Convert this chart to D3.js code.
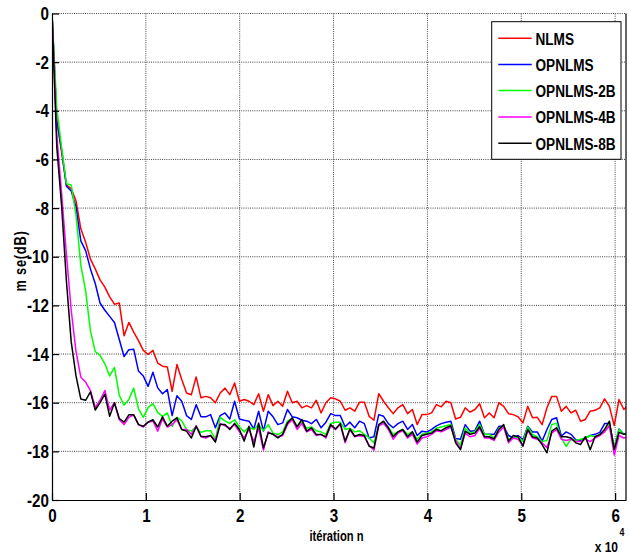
<!DOCTYPE html>
<html><head><meta charset="utf-8">
<script src="https://cdn.jsdelivr.net/npm/d3@7/dist/d3.min.js"></script>
<style>
html,body{margin:0;padding:0;background:#fff;}
svg{display:block;}
text{font-family:"Liberation Sans",Arial,sans-serif;font-weight:bold;}
</style></head>
<body>
<svg id="chart" width="629" height="555"></svg>
<script>
// ---- data ----
const seriesNames = ["NLMS","OPNLMS","OPNLMS-2B","OPNLMS-4B","OPNLMS-8B"];
const seriesColors = ["#ff0000","#0000ff","#00ff00","#ff00ff","#000000"];
const iterStep = 512; // iterations between successive samples
const xTickValues = [0,10000,20000,30000,40000,50000,60000];
const xTickLabels = ["0","1","2","3","4","5","6"];
const yTickValues = [0,-2,-4,-6,-8,-10,-12,-14,-16,-18,-20];
const yTickLabels = ["0","-2","-4","-6","-8","-10","-12","-14","-16","-18","-20"];

const nlms = [0,-4.4,-5.7,-7.05,-7.2,-7.7,-8.85,-9.4,-10.1,-10.5,
-10.95,-11.25,-11.65,-11.95,-11.9,-13.25,-12.7,-13.1,-13.45,-13.85,
-14.02,-13.85,-14.37,-14.5,-14.53,-15.53,-14.43,-15.05,-15.6,-15.67,
-14.94,-15.8,-15.74,-15.8,-16.0,-15.6,-15.4,-15.67,-15.19,-15.94,
-15.87,-15.94,-16.08,-15.63,-16.35,-15.67,-16.12,-15.94,-16.15,-15.53,
-16.0,-15.94,-16.21,-16.12,-16.21,-15.9,-16.42,-16.0,-15.8,-15.84,
-15.94,-16.31,-16.21,-16.35,-15.98,-15.98,-16.56,-16.72,-15.63,-15.94,
-16.21,-16.45,-16.21,-16.08,-16.45,-16.28,-16.9,-16.49,-16.49,-16.42,
-16.08,-16.17,-15.94,-16.0,-16.67,-16.6,-16.21,-16.39,-16.28,-16.04,
-16.62,-16.42,-16.62,-16.0,-16.15,-16.45,-16.49,-16.58,-16.83,-16.15,
-16.62,-16.6,-16.9,-16.21,-15.74,-15.74,-16.35,-16.15,-16.42,-16.31,
-16.76,-16.69,-16.35,-16.31,-16.21,-15.84,-16.15,-16.94,-15.87,-16.28,
-16.1];

const opnlms = [0,-4.4,-5.6,-7.1,-7.3,-7.95,-9.35,-9.75,-10.5,-11.1,
-11.9,-12.2,-12.45,-12.7,-13.4,-14.1,-13.82,-13.8,-14.7,-14.9,
-15.33,-14.75,-15.39,-15.63,-15.46,-16.53,-15.71,-15.94,-16.53,-16.69,
-16.08,-16.58,-16.58,-16.49,-17.03,-16.53,-16.42,-16.67,-15.94,-16.67,
-16.72,-16.76,-17.08,-16.35,-17.17,-16.35,-16.58,-16.9,-16.83,-16.28,
-16.58,-16.62,-16.72,-16.76,-16.86,-16.69,-17.03,-16.8,-16.45,-16.53,
-16.53,-16.99,-16.8,-17.03,-16.76,-16.86,-17.45,-17.4,-16.49,-16.56,
-16.86,-17.03,-16.86,-16.76,-17.1,-16.9,-17.35,-17.17,-17.2,-17.1,
-16.95,-16.86,-16.8,-16.76,-17.47,-17.5,-16.9,-17.17,-17.15,-16.76,
-17.31,-17.3,-17.3,-16.97,-16.97,-17.35,-17.45,-17.35,-17.52,-16.97,
-17.2,-17.2,-17.58,-17.1,-16.69,-16.62,-17.38,-17.2,-17.3,-17.52,
-17.55,-17.45,-17.35,-17.3,-17.22,-16.86,-16.85,-17.86,-17.08,-17.3,
-17.2];

const opnlms2b = [0,-3.9,-5.5,-7.0,-7.05,-8.3,-10.35,-11.4,-13.05,-13.9,
-14.05,-14.4,-14.9,-14.55,-15.7,-16.1,-15.87,-15.4,-16.25,-16.6,
-16.2,-16.04,-16.4,-16.56,-16.42,-16.97,-16.6,-16.75,-17.1,-17.17,
-17.0,-17.22,-17.15,-17.15,-17.5,-16.6,-16.75,-16.85,-16.7,-17.0,
-17.2,-17.0,-17.1,-16.9,-17.15,-16.9,-17.25,-17.31,-17.2,-16.76,
-16.65,-16.95,-16.8,-17.05,-17.0,-17.15,-17.2,-17.3,-16.85,-16.8,
-16.8,-17.1,-17.05,-17.2,-17.15,-17.3,-17.45,-17.65,-16.9,-16.8,
-17.0,-17.3,-17.2,-17.1,-17.3,-17.2,-17.5,-17.3,-17.25,-17.2,
-17.05,-17.0,-16.95,-16.9,-17.5,-17.75,-17.05,-17.25,-17.2,-16.9,
-17.3,-17.3,-17.45,-17.05,-16.95,-17.5,-17.45,-17.4,-17.6,-17.0,
-17.3,-17.4,-17.6,-17.55,-16.9,-16.85,-17.45,-17.8,-17.5,-17.55,
-17.5,-17.45,-17.35,-17.4,-17.3,-17.2,-16.9,-17.85,-17.1,-17.3,
-17.3];

const opnlms4b = [0,-5.0,-7.4,-9.9,-12.2,-13.9,-14.95,-15.15,-15.5,-16.2,
-15.9,-15.5,-16.3,-16.0,-16.7,-16.9,-16.6,-16.5,-16.9,-17.0,
-16.8,-16.75,-17.17,-16.67,-17.0,-16.9,-16.7,-17.1,-17.1,-17.3,
-16.95,-17.4,-17.45,-17.35,-17.55,-16.85,-16.95,-17.05,-16.9,-17.2,
-17.45,-17.1,-17.6,-17.05,-17.95,-17.2,-17.3,-17.4,-17.35,-16.9,
-16.7,-17.1,-16.85,-17.2,-17.1,-17.35,-17.3,-17.45,-16.95,-17.1,
-16.9,-17.65,-17.1,-17.4,-17.35,-17.4,-17.75,-17.95,-16.95,-16.85,
-17.1,-17.5,-17.25,-17.15,-17.45,-17.3,-17.7,-17.45,-17.4,-17.3,
-17.15,-17.2,-17.1,-17.0,-17.55,-17.9,-17.25,-17.4,-17.35,-17.05,
-17.45,-17.45,-17.55,-17.2,-17.0,-17.65,-17.45,-17.5,-17.75,-17.15,
-17.45,-17.5,-17.65,-17.85,-17.25,-17.1,-17.5,-17.55,-17.5,-17.6,
-17.6,-17.5,-17.6,-17.45,-17.35,-17.2,-16.95,-18.15,-17.35,-17.45,
-17.4];

const opnlms8b = [0,-5.5,-7.9,-11.0,-13.5,-14.9,-15.85,-15.9,-15.55,-16.3,
-16.0,-15.65,-16.56,-16.0,-16.65,-16.8,-16.5,-16.5,-16.9,-16.97,
-16.8,-16.7,-17.0,-16.58,-16.97,-16.76,-16.62,-17.1,-17.17,-17.45,
-16.97,-17.38,-17.4,-17.35,-17.62,-16.9,-16.9,-17.1,-16.85,-17.1,
-17.58,-16.97,-17.82,-16.83,-17.86,-17.24,-17.3,-17.45,-17.3,-16.83,
-16.62,-17.0,-16.69,-17.17,-17.03,-17.31,-17.31,-17.4,-16.9,-17.08,
-16.86,-17.58,-17.08,-17.38,-17.31,-17.35,-17.79,-17.86,-16.9,-16.76,
-17.03,-17.4,-17.2,-17.1,-17.4,-17.2,-17.62,-17.35,-17.3,-17.25,
-17.1,-17.15,-17.03,-16.95,-17.65,-17.93,-17.17,-17.3,-17.25,-16.99,
-17.4,-17.4,-17.49,-17.1,-16.9,-17.58,-17.35,-17.4,-17.79,-17.1,
-17.4,-17.45,-17.72,-18.06,-17.17,-17.03,-17.4,-17.4,-17.45,-17.65,
-17.72,-17.4,-17.93,-17.4,-17.31,-17.1,-16.76,-17.93,-17.22,-17.3,
-17.3];

const seriesValues = [nlms, opnlms, opnlms2b, opnlms4b, opnlms8b];

// ---- layout ----
const W = 629, H = 555;
const margin = {left: 52, top: 13.5, right: 3, bottom: 55};
const pw = W - margin.left - margin.right;
const ph = H - margin.top - margin.bottom;
const xMax = 61160;
const SX = 0.8; // horizontal condensing of the bold font (narrow look)

const svg = d3.select("#chart");
const g = svg.append("g").attr("transform", `translate(${margin.left},${margin.top})`);

const x = d3.scaleLinear().domain([0, xMax]).range([0, pw]);
const y = d3.scaleLinear().domain([-20, 0]).range([ph, 0]);

// grid
const grid = g.append("g").attr("class","grid");
grid.selectAll("line.gx").data(xTickValues.slice(1)).join("line")
  .attr("x1", d => x(d)).attr("x2", d => x(d)).attr("y1", 0).attr("y2", ph)
  .attr("stroke", "#444").attr("stroke-width", 1).attr("stroke-dasharray", "1,1.2");
grid.selectAll("line.gy").data(yTickValues.slice(0,-1)).join("line")
  .attr("y1", d => y(d)).attr("y2", d => y(d)).attr("x1", 0).attr("x2", pw)
  .attr("stroke", "#444").attr("stroke-width", 1).attr("stroke-dasharray", "1,1.2");

// clip
svg.append("defs").append("clipPath").attr("id","clip")
  .append("rect").attr("x",0).attr("y",-2).attr("width",pw).attr("height",ph+4);

// lines
const line = d3.line().x((d,i) => x(i*iterStep)).y(d => y(d));
const lg = g.append("g").attr("clip-path","url(#clip)");
seriesValues.forEach((vals, si) => {
  lg.append("path").datum(vals)
    .attr("d", line).attr("fill","none")
    .attr("stroke", seriesColors[si]).attr("stroke-width", 1.5)
    .attr("stroke-linejoin","round");
});

// axes
const xAxis = d3.axisBottom(x).tickValues(xTickValues)
  .tickFormat((d,i) => xTickLabels[i]).tickSizeInner(-7).tickSizeOuter(0).tickPadding(9);
const yAxis = d3.axisLeft(y).tickValues(yTickValues)
  .tickFormat((d,i) => yTickLabels[i]).tickSizeInner(-7).tickSizeOuter(0).tickPadding(3);

const gx = g.append("g").attr("transform", `translate(0,${ph})`).call(xAxis);
const gy = g.append("g").call(yAxis);
[gx, gy].forEach(a => {
  a.select(".domain").attr("stroke","#000").attr("stroke-width",1.2);
  a.selectAll(".tick line").attr("stroke","#000").attr("stroke-width",1.2);
  a.selectAll(".tick text").attr("fill","#000").style("font-size","19px")
    .style("font-family",'"Liberation Sans",Arial,sans-serif')
    .style("font-weight","bold")
    .attr("transform", `scale(${SX},1)`);
});
gy.selectAll(".tick text").attr("x", -3 / SX);
// right border
g.append("line").attr("x1",pw).attr("x2",pw).attr("y1",0).attr("y2",ph)
  .attr("stroke","#000").attr("stroke-width",1.2);

// condensed text helper
function ctext(px, py, str, size, anchor, extra) {
  const t = svg.append("text")
    .attr("transform", `translate(${px},${py}) ${extra || ""} scale(${SX},1)`)
    .attr("text-anchor", anchor || "start")
    .style("font-size", size + "px").text(str);
  return t;
}

// axis titles
ctext(336.5, 541, "itération n", 14, "middle");
ctext(26, 261, "m se(dB)", 16, "middle", "rotate(-90)").style("letter-spacing","1px");
ctext(618, 551.5, "x 10", 15, "end");
ctext(619.5, 536, "4", 11, "start");

// legend
const legend = svg.append("g");
legend.append("rect").attr("x",491.7).attr("y",21.7).attr("width",129.3).attr("height",137.6)
  .attr("fill","#fff").attr("stroke","#000").attr("stroke-width",1);
const legRowY = [38.3, 64.5, 90.5, 117, 143.3];
seriesNames.forEach((name, i) => {
  legend.append("line").attr("x1",498.3).attr("x2",531.7)
    .attr("y1",legRowY[i]).attr("y2",legRowY[i])
    .attr("stroke",seriesColors[i]).attr("stroke-width",1.5);
  ctext(535.5, legRowY[i] + 6.2, name, 17, "start");
});
</script>
</body></html>
